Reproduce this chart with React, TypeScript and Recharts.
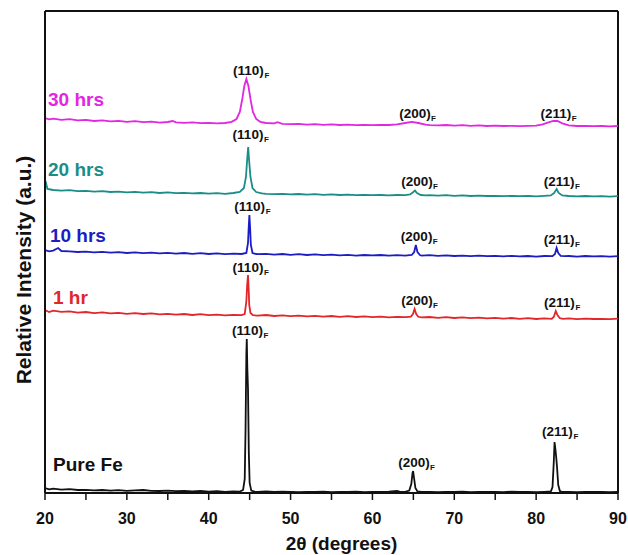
import { LineChart, Line, XAxis, YAxis, ReferenceLine, ReferenceDot, Label } from 'recharts';

// XRD patterns, stacked (2θ in degrees, intensity in counts incl. offset)
const pureFe = [
  [20, 250], [20.5, 180], [21, 220], [22, 170], [23, 190], [24, 150], [25, 160], [26, 130], [27, 150], [28, 120],
  [29, 140], [30, 110], [31, 130], [32, 150], [33, 110], [34, 100], [35, 120], [36, 90], [37, 110], [38, 80],
  [39, 100], [40, 70], [41, 90], [42, 60], [43, 80], [43.8, 70], [44.2, 150], [44.4, 700], [44.5, 3200], [44.6, 7000],
  [44.65, 7700], [44.72, 6200], [44.8, 5200], [44.9, 2000], [45.0, 500], [45.2, 120], [45.6, 70], [46, 60], [47, 80], [48, 50],
  [49, 70], [50, 60], [51, 40], [52, 60], [53, 50], [54, 70], [55, 40], [56, 60], [57, 50], [58, 70],
  [59, 40], [60, 60], [61, 50], [62, 70], [63, 110], [63.5, 50], [64, 60], [64.5, 120], [64.75, 450], [64.9, 1000],
  [64.97, 1100], [65.1, 700], [65.25, 250], [65.5, 80], [66, 50], [67, 60], [68, 40], [69, 60], [70, 50], [71, 70],
  [72, 40], [73, 60], [74, 50], [75, 60], [76, 40], [77, 70], [78, 50], [79, 60], [80, 40], [81, 60],
  [81.8, 80], [82.0, 300], [82.15, 1500], [82.25, 2550], [82.35, 2200], [82.45, 1800], [82.55, 1300], [82.7, 400], [82.9, 100], [83.2, 50],
  [84, 60], [85, 40], [86, 60], [87, 50], [88, 60], [89, 40], [90, 50],
];

const hr1 = [
  [20, 9150], [20.5, 9050], [21, 9120], [22, 9060], [23, 9080], [24, 9020], [25, 9050], [26, 8990], [27, 9030], [28, 8980],
  [29, 9010], [30, 8960], [31, 8990], [32, 8950], [33, 8980], [34, 8930], [35, 8960], [36, 8920], [37, 8950], [38, 8900],
  [39, 8940], [40, 8890], [41, 8920], [42, 8880], [43, 8910], [44, 8890], [44.4, 8950], [44.6, 9600], [44.7, 10400], [44.8, 10900],
  [44.88, 10200], [44.95, 9400], [45.1, 9000], [45.4, 8890], [46, 8870], [47, 8900], [48, 8850], [49, 8880], [50, 8840], [51, 8870],
  [52, 8830], [53, 8860], [54, 8820], [55, 8850], [56, 8810], [57, 8840], [58, 8800], [59, 8830], [60, 8790], [61, 8820],
  [62, 8780], [63, 8810], [64, 8790], [64.7, 8820], [64.95, 8950], [65.15, 9200], [65.35, 8950], [65.6, 8810], [66, 8780], [67, 8800],
  [68, 8760], [69, 8790], [70, 8750], [71, 8780], [72, 8740], [73, 8770], [74, 8730], [75, 8760], [76, 8720], [77, 8750],
  [78, 8710], [79, 8740], [80, 8700], [81, 8730], [81.9, 8710], [82.15, 8800], [82.4, 9100], [82.6, 8900], [82.9, 8740], [83.3, 8710],
  [84, 8730], [85, 8690], [86, 8720], [87, 8700], [88, 8710], [89, 8690], [90, 8720],
];

const hr10 = [
  [20, 12150], [20.5, 12080], [21, 12120], [21.6, 12250], [22, 12100], [23, 12080], [24, 12050], [25, 12070], [26, 12030], [27, 12060],
  [28, 12020], [29, 12040], [30, 12000], [31, 12030], [32, 11990], [33, 12020], [34, 11980], [35, 12010], [36, 11970], [37, 12000],
  [38, 11960], [39, 11990], [40, 11950], [41, 11980], [42, 11940], [43, 11970], [44, 11950], [44.6, 12000], [44.8, 12500], [44.9, 13400],
  [44.97, 13900], [45.05, 13300], [45.15, 12400], [45.35, 12000], [45.8, 11950], [46, 11940], [47, 11960], [48, 11920], [49, 11950], [50, 11910],
  [51, 11940], [52, 11900], [53, 11930], [54, 11890], [55, 11920], [56, 11880], [57, 11910], [58, 11870], [59, 11900], [60, 11880],
  [61, 11900], [62, 11870], [63, 11890], [64, 11870], [64.8, 11900], [65.1, 12050], [65.3, 12400], [65.5, 12050], [65.8, 11900], [66, 11870],
  [67, 11890], [68, 11860], [69, 11880], [70, 11850], [71, 11870], [72, 11840], [73, 11870], [74, 11840], [75, 11860], [76, 11830],
  [77, 11860], [78, 11830], [79, 11850], [80, 11820], [81, 11850], [82, 11840], [82.3, 11950], [82.5, 12250], [82.7, 12000], [83, 11860],
  [83.5, 11840], [84, 11850], [85, 11820], [86, 11850], [87, 11830], [88, 11840], [89, 11820], [90, 11840],
];

const hr20 = [
  [20, 15250], [20.15, 15450], [20.3, 15200], [21, 15150], [22, 15120], [23, 15140], [24, 15090], [25, 15110], [26, 15070], [27, 15090],
  [28, 15050], [29, 15070], [30, 15030], [31, 15060], [32, 15020], [33, 15040], [34, 15000], [35, 15030], [36, 14990], [37, 15010],
  [38, 14980], [39, 15000], [40, 14970], [41, 14990], [42, 14960], [43, 15000], [43.8, 15050], [44.3, 15250], [44.55, 15800], [44.72, 16800],
  [44.82, 17300], [44.92, 16700], [45.1, 15800], [45.35, 15250], [45.8, 15050], [46.5, 14980], [47, 14960], [48, 14940], [49, 14960], [50, 14930],
  [51, 14950], [52, 14920], [53, 14940], [54, 14910], [55, 14930], [56, 14900], [57, 14920], [58, 14890], [59, 14910], [60, 14890],
  [61, 14900], [62, 14880], [63, 14900], [64, 14890], [64.6, 14930], [65.0, 15050], [65.2, 15120], [65.45, 15000], [65.9, 14900], [66.5, 14880],
  [67, 14890], [68, 14870], [69, 14890], [70, 14860], [71, 14880], [72, 14850], [73, 14870], [74, 14850], [75, 14860], [76, 14840],
  [77, 14860], [78, 14840], [79, 14850], [80, 14830], [81, 14860], [81.8, 14880], [82.2, 15000], [82.5, 15200], [82.75, 15000], [83.2, 14880],
  [84, 14850], [85, 14830], [86, 14850], [87, 14830], [88, 14840], [89, 14820], [90, 14840],
];

const hr30 = [
  [20, 18750], [20.5, 18680], [21, 18720], [22, 18660], [23, 18690], [24, 18630], [25, 18660], [26, 18600], [27, 18630], [28, 18580],
  [29, 18610], [30, 18560], [31, 18590], [32, 18540], [33, 18570], [34, 18520], [35, 18550], [35.6, 18600], [36, 18530], [37, 18510],
  [38, 18530], [39, 18490], [40, 18510], [41, 18480], [42, 18500], [42.8, 18560], [43.4, 18700], [43.8, 19050], [44.1, 19700], [44.35, 20350],
  [44.6, 20700], [44.85, 20350], [45.1, 19700], [45.4, 19050], [45.8, 18700], [46.3, 18560], [47, 18500], [48, 18480], [48.4, 18540], [49, 18460],
  [50, 18440], [51, 18460], [52, 18420], [53, 18440], [54, 18410], [55, 18430], [56, 18400], [57, 18420], [58, 18390], [59, 18410],
  [60, 18390], [61, 18400], [62, 18400], [63, 18430], [64, 18500], [64.8, 18560], [65.6, 18500], [66.5, 18420], [67, 18390], [68, 18380],
  [69, 18400], [70, 18370], [71, 18390], [72, 18360], [73, 18380], [74, 18350], [75, 18370], [76, 18350], [77, 18360], [78, 18340],
  [79, 18360], [80, 18370], [80.8, 18430], [81.5, 18530], [82.1, 18600], [82.6, 18600], [83.2, 18480], [84, 18380], [85, 18350], [86, 18360],
  [87, 18340], [88, 18350], [89, 18330], [90, 18350],
];

const seriesNames = ['Pure Fe', '1 hr', '10 hrs', '20 hrs', '30 hrs'];
const seriesColors = ['#111111', '#e2262a', '#1c1cc4', '#1b8d88', '#e226e2'];
const seriesData = [pureFe, hr1, hr10, hr20, hr30];
// where each sample name sits (2θ, counts)
const nameAt = [[20.98, 1100], [20.98, 9450], [20.6, 12550], [20.37, 15850], [20.37, 19350]];

// peak labels: [hkl, 2θ, counts]
const peakLabels = [
  ['(110)', 44.74, 7900], ['(200)', 65.07, 1300], ['(211)', 82.6, 2850],
  ['(110)', 44.8, 11050], ['(200)', 65.45, 9400], ['(211)', 82.85, 9300],
  ['(110)', 45.0, 14100], ['(200)', 65.4, 12600], ['(211)', 82.8, 12450],
  ['(110)', 44.8, 17700], ['(200)', 65.45, 15350], ['(211)', 82.8, 15350],
  ['(110)', 44.85, 20900], ['(200)', 65.2, 18750], ['(211)', 82.4, 18750],
];

const xTicks = [20, 25, 30, 35, 40, 45, 50, 55, 60, 65, 70, 75, 80, 85, 90];
const yMax = 24100;

const FONT = '"Liberation Sans", Arial, sans-serif';

function XTick(props: any) {
  const { x, y, payload } = props;
  if (payload.value % 10 !== 0) return <g />;
  return (
    <text x={x} y={y} dy={22} textAnchor="middle" fontFamily={FONT} fontWeight="bold" fontSize={16} fill="#111">
      {payload.value}
    </text>
  );
}

function PeakText({ cx, cy, text }: any) {
  return (
    <g>
      <text x={cx} y={cy} textAnchor="middle" fontFamily={FONT} fontWeight="bold" fontSize={13.5} fill="#111">
        {text}
      </text>
      <text x={cx + 16} y={cy + 3} fontFamily={FONT} fontWeight="bold" fontSize={8} fill="#111">
        F
      </text>
    </g>
  );
}

export default function App() {
  return (
    <div style={{ position: 'fixed', left: 0, top: 0, width: 628, height: 555, background: '#fff' }}>
      <LineChart width={628} height={555} margin={{ top: 11, right: 10, bottom: 22, left: 0 }}>
        <XAxis
          type="number"
          dataKey="x"
          domain={[20, 90]}
          ticks={xTicks}
          interval={0}
          allowDataOverflow
          height={40}
          axisLine={{ stroke: '#111', strokeWidth: 2 }}
          tickLine={{ stroke: '#111', strokeWidth: 1.5 }}
          tickSize={7}
          tick={<XTick />}
        >
          <Label
            content={(p: any) => {
              const vb = p.viewBox;
              return (
                <text x={vb.x + vb.width / 2 + 10} y={vb.y + 57} textAnchor="middle" fontFamily={FONT} fontWeight="bold" fontSize={19} fill="#111">
                  2θ (degrees)
                </text>
              );
            }}
          />
        </XAxis>
        <YAxis
          type="number"
          domain={[0, yMax]}
          allowDataOverflow
          width={45}
          tick={false}
          tickLine={false}
          axisLine={{ stroke: '#111', strokeWidth: 2 }}
        >
          <Label
            content={() => (
              <text x={31} y={270} transform="rotate(-90 31 270)" textAnchor="middle" fontFamily={FONT} fontWeight="bold" fontSize={21} fill="#111">
                Relative Intensity (a.u.)
              </text>
            )}
          />
        </YAxis>
        <ReferenceLine y={yMax} stroke="#111" strokeWidth={2} ifOverflow="visible" />
        <ReferenceLine x={90} stroke="#111" strokeWidth={2} ifOverflow="visible" />
        {seriesData.map((pts, i) => (
          <Line
            key={seriesNames[i]}
            data={pts.map(([x, y]) => ({ x, y }))}
            dataKey="y"
            type="linear"
            stroke={seriesColors[i]}
            strokeWidth={1.8}
            dot={false}
            isAnimationActive={false}
          />
        ))}
        {peakLabels.map(([t, x, y], i) => (
          <ReferenceDot
            key={'pk' + i}
            x={x as number}
            y={y as number}
            r={0}
            ifOverflow="visible"
            shape={(p: any) => <PeakText cx={p.cx} cy={p.cy} text={t} />}
          />
        ))}
        {nameAt.map(([x, y], i) => (
          <ReferenceDot
            key={'nm' + i}
            x={x}
            y={y}
            r={0}
            ifOverflow="visible"
            shape={(p: any) => (
              <text x={p.cx} y={p.cy} fontFamily={FONT} fontWeight="bold" fontSize={19} fill={seriesColors[i]}>
                {seriesNames[i]}
              </text>
            )}
          />
        ))}
      </LineChart>
    </div>
  );
}
